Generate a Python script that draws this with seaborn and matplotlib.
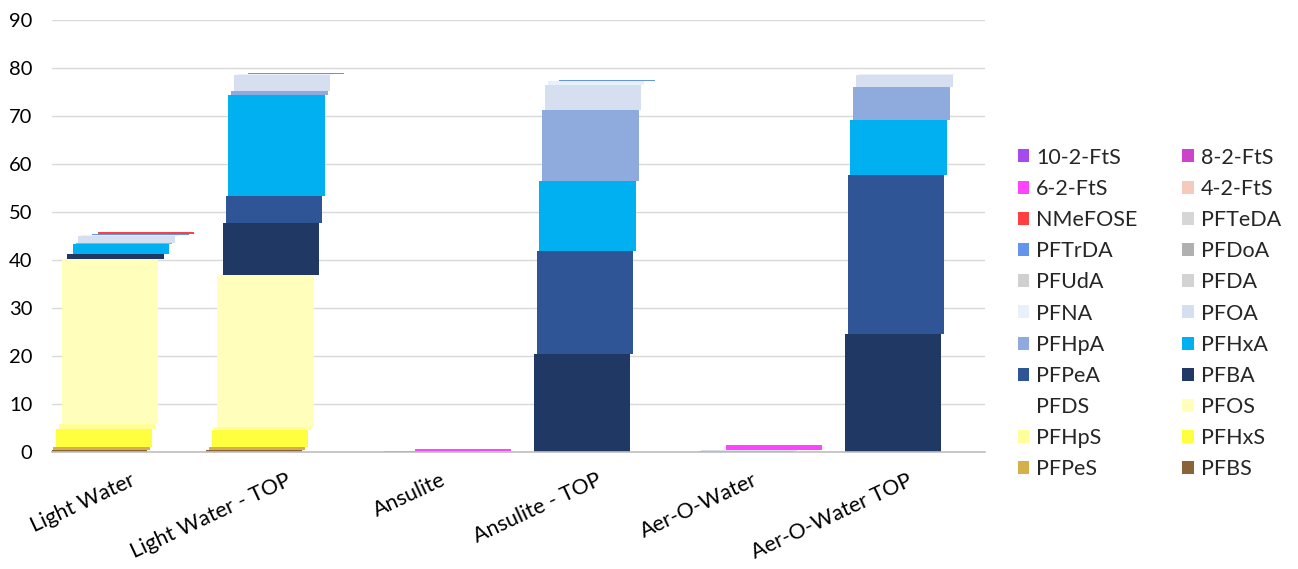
import pandas as pd
import matplotlib
matplotlib.use('Agg')
import matplotlib.pyplot as plt
import seaborn as sns
from matplotlib.patches import Patch

# Kategorije (uzorci)
kategorije = ['Light Water', 'Light Water - TOP', 'Ansulite', 'Ansulite - TOP',
              'Aer-O-Water', 'Aer-O-Water TOP']

# Serije od dna ka vrhu stuba
serije = ['PFBS', 'PFPeS', 'PFHxS', 'PFHpS', 'PFOS', 'PFDS', 'PFBA', 'PFPeA',
          'PFHxA', 'PFHpA', 'PFOA', 'PFNA', 'PFDA', 'PFUdA', 'PFDoA', 'PFTrDA',
          'PFTeDA', 'NMeFOSE', '4-2-FtS', '6-2-FtS', '8-2-FtS', '10-2-FtS']

boje = ['#8C6239', '#D4AF4A', '#FFFF3F', '#FFFF99', '#FFFFBB', '#FFFFFF',
        '#203864', '#2F5597', '#00B0F0', '#8FAADC', '#D5DFF0', '#E8F0FA',
        '#D3D3D3', '#D0D0D0', '#B0B0B0', '#6495ED', '#D6D6D6', '#FF4040',
        '#F5C9BC', '#FF44FF', '#CC44CC', '#A64AF0']

# Vrednosti po seriji (redosled kao kategorije)
vrednosti = {
    'PFBS':     [0.4, 0.4, 0.0, 0.0, 0.0, 0.0],
    'PFPeS':    [0.7, 0.6, 0.0, 0.0, 0.0, 0.0],
    'PFHxS':    [3.6, 3.6, 0.0, 0.0, 0.0, 0.0],
    'PFHpS':    [1.2, 0.7, 0.0, 0.0, 0.0, 0.0],
    'PFOS':     [34.4, 31.6, 0.0, 0.0, 0.0, 0.0],
    'PFDS':     [0.0, 0.0, 0.0, 0.0, 0.0, 0.0],
    'PFBA':     [1.0, 10.8, 0.0, 20.4, 0.0, 24.6],
    'PFPeA':    [0.0, 5.7, 0.0, 21.5, 0.0, 33.1],
    'PFHxA':    [2.1, 21.0, 0.15, 14.6, 0.1, 11.5],
    'PFHpA':    [0.2, 0.9, 0.0, 14.7, 0.1, 6.8],
    'PFOA':     [1.5, 3.3, 0.1, 5.3, 0.2, 2.5],
    'PFNA':     [0.2, 0.2, 0.0, 0.7, 0.0, 0.3],
    'PFDA':     [0.0, 0.0, 0.0, 0.1, 0.0, 0.0],
    'PFUdA':    [0.0, 0.0, 0.0, 0.0, 0.0, 0.0],
    'PFDoA':    [0.0, 0.0, 0.0, 0.0, 0.0, 0.0],
    'PFTrDA':   [0.1, 0.1, 0.0, 0.1, 0.0, 0.0],
    'PFTeDA':   [0.0, 0.0, 0.0, 0.0, 0.0, 0.0],
    'NMeFOSE':  [0.35, 0.0, 0.0, 0.0, 0.0, 0.0],
    '4-2-FtS':  [0.0, 0.0, 0.0, 0.0, 0.0, 0.0],
    '6-2-FtS':  [0.0, 0.0, 0.3, 0.0, 1.1, 0.0],
    '8-2-FtS':  [0.0, 0.0, 0.0, 0.0, 0.0, 0.0],
    '10-2-FtS': [0.0, 0.0, 0.0, 0.0, 0.0, 0.0],
}

sns.set_theme(style='white')
plt.rcParams['font.family'] = ['Lato', 'DejaVu Sans']

fig = plt.figure(figsize=(12.98, 5.69), dpi=100)
ax = fig.add_axes([0.040, 0.2056, 0.719, 0.7593])

# Crtanje naslaganih stubova; svaka serija malo pomerena udesno (3D izgled)
dno = [0.0] * len(kategorije)
for i, (s, c) in enumerate(zip(serije, boje)):
    df = pd.DataFrame({'uzorak': kategorije, 'vrednost': vrednosti[s]})
    sns.barplot(data=df, x='uzorak', y='vrednost', color=c, width=0.62,
                errorbar=None, bottom=dno, linewidth=0, saturation=1, ax=ax)
    pomak = -0.2 + 0.018 * i
    for p in ax.containers[-1]:
        p.set_x(p.get_x() + pomak)
    dno = [d + v for d, v in zip(dno, vrednosti[s])]

ax.set_xlim(-0.5, 5.5)
ax.set_ylim(0, 90)
ax.set_yticks(range(0, 91, 10))
ax.yaxis.grid(True, color='#D9D9D9', linewidth=1)
ax.set_axisbelow(True)
ax.set_xlabel('')
ax.set_ylabel('')
for sp in ['top', 'right', 'left']:
    ax.spines[sp].set_visible(False)
ax.spines['bottom'].set_color('#BFBFBF')
ax.spines['bottom'].set_linewidth(1.2)
ax.tick_params(axis='both', length=0, colors='#000000')
ax.tick_params(axis='y', pad=14, labelsize=14.5)
ax.tick_params(axis='x', pad=13, labelsize=15.5)
plt.setp(ax.get_xticklabels(), rotation=25, ha='right', rotation_mode='anchor')

# Legenda: dve kolone, popunjavanje po redovima (obrnut redosled serija)
rev = list(zip(serije, boje))[::-1]
redosled = rev[0::2] + rev[1::2]
rucke = [Patch(facecolor=c, edgecolor='none', label=s) for s, c in redosled]
fig.legend(handles=rucke, ncol=2, loc='center left', bbox_to_anchor=(0.769, 0.449),
           frameon=False, fontsize=15.5, handlelength=0.55, handleheight=0.55,
           handletextpad=0.3, labelspacing=0.52, columnspacing=2.1)

plt.savefig('out.png', dpi=100)
